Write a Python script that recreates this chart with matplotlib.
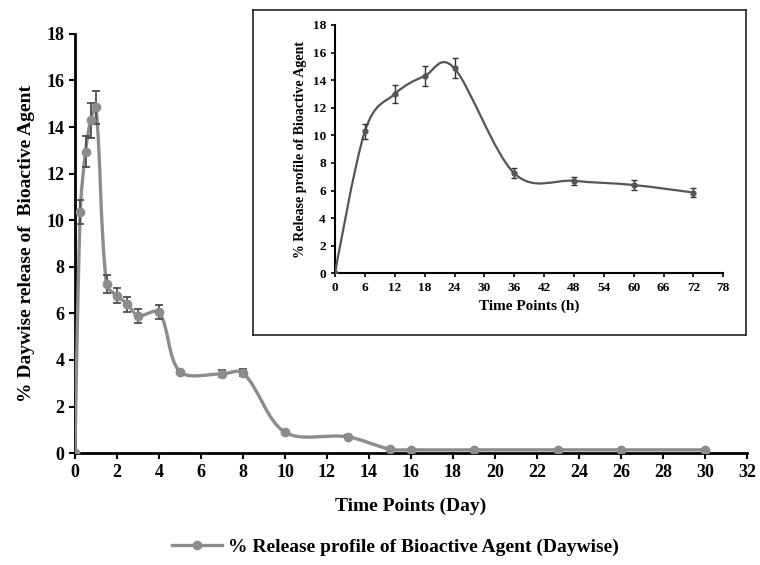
import numpy as np
import matplotlib.pyplot as plt
from matplotlib.path import Path
from matplotlib.patches import PathPatch
from matplotlib.lines import Line2D

plt.rcParams['font.family'] = ['Liberation Serif', 'DejaVu Serif']
plt.rcParams['font.weight'] = 'bold'

# daywise release (%)
days = [0, 0.25, 0.5, 0.75, 1, 1.5, 2, 2.5, 3, 4, 5, 7, 8, 10, 13, 15, 16, 19, 23, 26, 30]
release_day = [0, 10.35, 12.95, 14.3, 14.85, 7.25, 6.75, 6.4, 5.9, 6.05, 3.5, 3.4, 3.45,
               0.9, 0.7, 0.17, 0.14, 0.14, 0.14, 0.14, 0.14]
err_day = [0, 0.5, 0.68, 0.75, 0.7, 0.38, 0.32, 0.32, 0.3, 0.3, 0.08, 0.15, 0.15,
           0.06, 0.06, 0.03, 0.03, 0.03, 0.03, 0.03, 0.03]

# first 72 hours (%)
hours = [0, 6, 12, 18, 24, 36, 48, 60, 72]
release_h = [0, 10.3, 13.0, 14.3, 14.85, 7.25, 6.7, 6.4, 5.85]
err_h = [0, 0.53, 0.63, 0.72, 0.72, 0.36, 0.31, 0.33, 0.3]

day_ticks = np.arange(0, 33, 2)
hour_ticks = np.arange(0, 79, 6)
y_ticks = np.arange(0, 19, 2)


def smooth_path(ax, x, y, t=1/3, uniform=False):
    # cubic bezier through the points; arm lengths follow the on-screen segment lengths
    # (uniform=True gives the plain catmull-rom arms of d/6)
    x = np.asarray(x, float)
    y = np.asarray(y, float)
    bb = ax.get_position()
    x0, x1 = ax.get_xlim()
    y0, y1 = ax.get_ylim()
    sx = bb.width * ax.figure.get_figwidth() / (x1 - x0)
    sy = bb.height * ax.figure.get_figheight() / (y1 - y0)
    p = np.column_stack([x, y])
    seg = np.hypot(np.diff(x) * sx, np.diff(y) * sy)
    if uniform:
        seg = np.ones_like(seg)
    n = len(p)
    arm_out = np.zeros_like(p)
    arm_in = np.zeros_like(p)
    for i in range(1, n - 1):
        d = p[i + 1] - p[i - 1]
        tot = seg[i - 1] + seg[i]
        arm_out[i] = d * seg[i] / tot * t
        arm_in[i] = d * seg[i - 1] / tot * t
    verts = [tuple(p[0])]
    codes = [Path.MOVETO]
    for i in range(n - 1):
        verts += [tuple(p[i] + arm_out[i]), tuple(p[i + 1] - arm_in[i + 1]), tuple(p[i + 1])]
        codes += [Path.CURVE4] * 3
    return Path(verts, codes)


fig = plt.figure(figsize=(7.6, 5.65), dpi=100)

# main chart
ax = fig.add_axes([0.0987, 0.198, 0.884, 0.742])
main_col = '#8c8c8c'
ax.set_xlim(0, 32)
ax.set_ylim(0, 18)
ax.add_patch(PathPatch(smooth_path(ax, days, release_day), fill=False, ec=main_col, lw=2.4,
                       zorder=3, capstyle='round', joinstyle='round'))
ax.errorbar(days, release_day, yerr=err_day, fmt='none', ecolor='#4d4d4d', elinewidth=1.3,
            capsize=3, capthick=1.3, zorder=4)
ax.plot(days, release_day, 'o', color=main_col, ms=6, zorder=5)
ax.set_xticks(day_ticks)
ax.set_yticks(y_ticks)
ax.tick_params(labelsize=13, width=1.5, length=4, direction='out')
for s in ['top', 'right']:
    ax.spines[s].set_visible(False)
for s in ['left', 'bottom']:
    ax.spines[s].set_linewidth(2)
ax.set_xlabel('Time Points (Day)', fontsize=14, fontweight='bold', labelpad=12)
ax.set_ylabel('% Daywise release of  Bioactive Agent', fontsize=14, fontweight='bold',
              labelpad=8)

proxy = Line2D([], [], color=main_col, lw=2.4, marker='o', ms=6)
fig.legend([proxy], ['% Release profile of Bioactive Agent (Daywise)'],
           loc='center', bbox_to_anchor=(0.52, 0.032), frameon=False, fontsize=14,
           handlelength=2.6, handletextpad=0.3)

# inset frame
box = fig.add_axes([0.3325, 0.407, 0.649, 0.575])
box.set_xticks([])
box.set_yticks([])
box.patch.set_alpha(0)
for s in box.spines.values():
    s.set_linewidth(1.2)
    s.set_color('#222222')

# inset chart
ins = fig.add_axes([0.4408, 0.5163, 0.511, 0.4395])
ins_col = '#555555'
ins.set_xlim(0, 78)
ins.set_ylim(0, 18)
ins.add_patch(PathPatch(smooth_path(ins, hours, release_h, uniform=True), fill=False,
                        ec=ins_col, lw=1.6, zorder=3))
ins.errorbar(hours, release_h, yerr=err_h, fmt='none', ecolor='#333333', elinewidth=1,
             capsize=2.5, capthick=1, zorder=4)
ins.plot(hours, release_h, 'o', color=ins_col, ms=3.5, zorder=5)
ins.set_xticks(hour_ticks)
ins.set_yticks(y_ticks)
ins.tick_params(labelsize=9.5, width=1.2, length=3, direction='out')
for s in ['top', 'right']:
    ins.spines[s].set_visible(False)
for s in ['left', 'bottom']:
    ins.spines[s].set_linewidth(1.5)
ins.set_xlabel('Time Points (h)', fontsize=11, fontweight='bold', labelpad=4)
ins.set_ylabel('% Release profile of Bioactive Agent', fontsize=10, fontweight='bold',
               labelpad=4)

fig.savefig('out.png', dpi=100)
